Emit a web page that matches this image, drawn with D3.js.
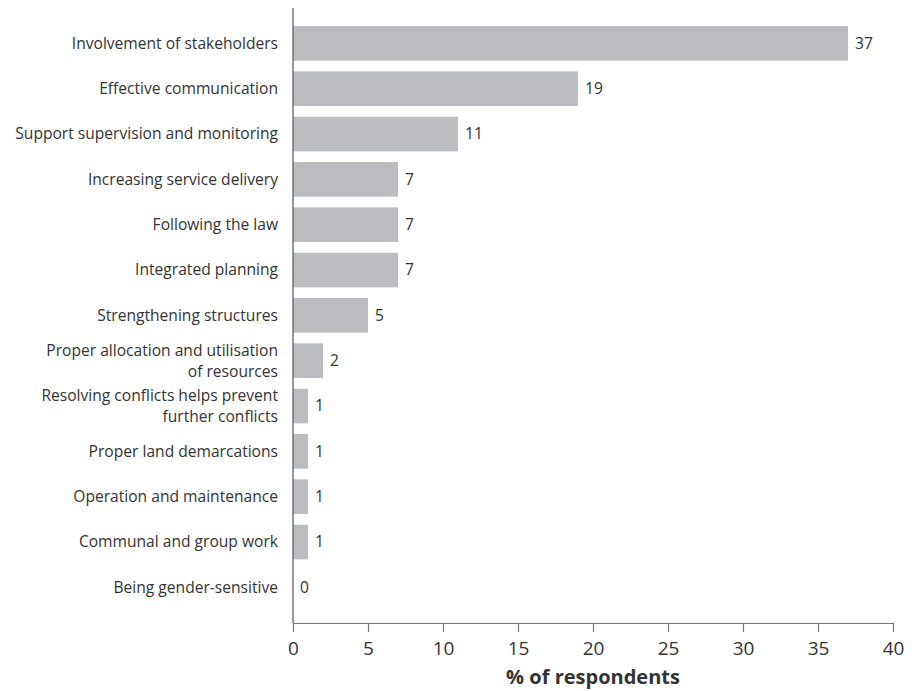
<!DOCTYPE html>
<html><head><meta charset="utf-8">
<script src="https://cdn.jsdelivr.net/npm/d3@7"></script>
<style>body{margin:0;background:#fff;} text{font-family:"Open Sans",sans-serif;}</style>
</head><body>
<svg id="chart" width="912" height="691"></svg>
<script>
const categories = [
  "Involvement of stakeholders",
  "Effective communication",
  "Support supervision and monitoring",
  "Increasing service delivery",
  "Following the law",
  "Integrated planning",
  "Strengthening structures",
  "Proper allocation and utilisation|of resources",
  "Resolving conflicts helps prevent|further conflicts",
  "Proper land demarcations",
  "Operation and maintenance",
  "Communal and group work",
  "Being gender-sensitive"
];
const values = [37, 19, 11, 7, 7, 7, 5, 2, 1, 1, 1, 1, 0];
const xTicks = [0, 5, 10, 15, 20, 25, 30, 35, 40];
const xTitle = "% of respondents";

const svg = d3.select("#chart");
const x = d3.scaleLinear().domain([0, 40]).range([293, 893]);
const y = d3.scaleBand().domain(categories).range([20.7, 610]).paddingInner(0.235).paddingOuter(0.1175);
const textColor = "#333";
const fs = 15.6;

// bars
svg.selectAll("rect.bar").data(categories).enter().append("rect")
  .attr("x", x(0)).attr("y", d => y(d))
  .attr("width", (d, i) => x(values[i]) - x(0))
  .attr("height", y.bandwidth())
  .attr("fill", "#bcbdc1");

// value labels
svg.selectAll("text.val").data(categories).enter().append("text")
  .attr("x", (d, i) => x(values[i]) + 7)
  .attr("y", d => y(d) + y.bandwidth() / 2)
  .attr("dy", "0.35em")
  .attr("font-size", fs).attr("fill", textColor)
  .text((d, i) => values[i]);

// category labels (each line its own text element)
categories.forEach(d => {
  const lines = d.split("|");
  const cy = y(d) + y.bandwidth() / 2;
  const lh = 21;
  lines.forEach((ln, k) => {
    svg.append("text").attr("text-anchor", "end").attr("font-size", fs)
      .attr("fill", textColor).attr("x", 278)
      .attr("y", cy + (k - (lines.length - 1) / 2) * lh)
      .attr("dy", "0.35em").text(ln);
  });
});

// y axis line
svg.append("line").attr("x1", x(0)).attr("x2", x(0)).attr("y1", 8).attr("y2", 623)
  .attr("stroke", "#555").attr("stroke-width", 1.2);

// x axis
const xAxis = svg.append("g").attr("transform", "translate(0,623)")
  .call(d3.axisBottom(x).tickValues(xTicks).tickSize(9).tickPadding(10).tickSizeOuter(0));
xAxis.select(".domain").attr("stroke", "#777").attr("stroke-width", 1.2);
xAxis.selectAll(".tick line").attr("stroke", "#777").attr("stroke-width", 1.2);
xAxis.selectAll(".tick text").attr("font-size", 19).attr("fill", textColor)
  .attr("font-family", "Open Sans, sans-serif");

svg.append("text").attr("x", x(20)).attr("y", 684).attr("text-anchor", "middle")
  .attr("font-size", 20).attr("font-weight", "bold").attr("fill", textColor)
  .text(xTitle);
</script>
</body></html>
